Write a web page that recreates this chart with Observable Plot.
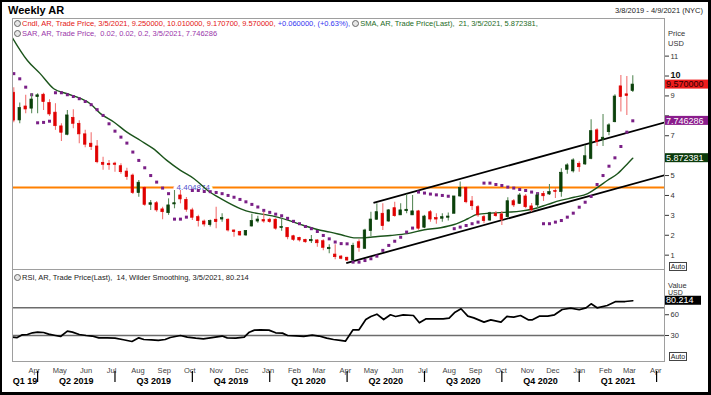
<!DOCTYPE html>
<html>
<head>
<meta charset="utf-8">
<script src="https://cdn.jsdelivr.net/npm/d3@7"></script>
<script src="https://cdn.jsdelivr.net/npm/@observablehq/plot@0.6"></script>
<style>
  body { margin: 0; background: #fff; font-family: "Liberation Sans", Arial, sans-serif; }
  #wrap { position: relative; width: 711px; height: 395px; overflow: hidden; background: #fff; }
  .abs { position: absolute; white-space: nowrap; }
  .leg { font-size: 7.5px; line-height: 9px; }
  .ico { display: inline-block; width: 5px; height: 5px; border-radius: 50%; border: 1px solid #666; background: #e6e6e6; vertical-align: -1px; margin-right: 1px; }
  .auto { position: absolute; border: 1px solid #444; font-size: 7px; line-height: 7px; text-align: center; color: #222; background: #fff; }
  #border { position: absolute; left: 0; top: 0; width: 711px; height: 395px; box-sizing: border-box; border: 2px solid #000; border-right-width: 3px; border-bottom-width: 3px; pointer-events: none; }
</style>
</head>
<body>
<div id="wrap"></div>
<script>
// ---------- DATA ----------
const firstWeek = "2019-03-08";
const opens  = [9.16,7.77,8.47,8.36,8.94,9.06,8.64,8.16,7.47,7.05,7.9,7.6,7.07,6.6,6.46,5.64,5.59,5.6,5.47,5.2,
                5.0,4.12,4.37,3.53,3.61,3.3,3.11,3.55,4.0,3.78,3.25,2.91,2.69,2.51,2.78,2.79,2.78,2.24,2.16,1.99,
                2.44,2.69,2.76,2.78,2.78,2.36,2.36,1.95,1.87,1.77,1.7,1.74,1.7,1.3,1.03,0.93,0.87,0.73,1.65,1.32,
                2.21,2.78,3.08,2.69,3.36,3.0,3.21,3.0,3.2,2.38,3.16,2.86,2.83,2.88,3.08,3.95,4.37,3.7,3.41,2.91,
                2.74,3.08,3.05,2.91,3.71,3.58,3.95,3.45,3.5,4.08,4.05,4.22,4.17,5.29,5.21,5.59,5.56,5.84,7.27,6.8,
                7.18,7.68,9.48,9.08,9.25];
const highs  = [9.41,8.64,9.03,9.11,9.11,9.14,8.81,8.61,7.6,8.27,8.31,7.75,7.27,7.15,6.76,5.92,5.76,5.67,5.59,5.37,
                5.08,4.75,4.43,3.75,3.7,3.41,3.83,4.25,4.25,3.9,3.36,3.0,2.77,2.77,3.41,3.08,2.83,2.27,2.2,2.24,
                3.05,2.96,3.15,2.85,2.83,2.83,2.38,2.0,1.9,1.8,1.99,1.77,1.77,1.52,1.52,0.98,0.9,1.6,1.77,2.3,
                3.16,3.58,3.58,3.3,3.66,3.58,4.05,4.0,3.25,3.0,3.25,3.08,3.08,3.12,3.95,4.67,4.43,3.95,3.5,3.0,
                3.15,3.2,3.2,3.88,3.8,4.1,4.05,3.6,4.1,4.2,4.55,4.35,5.34,5.59,5.84,5.69,6.51,7.8,7.35,8.07,
                7.6,9.06,10.03,9.98,10.01];
const lows   = [7.65,7.6,8.1,8.1,8.1,8.27,7.97,7.27,6.71,7.0,7.35,6.6,6.4,6.26,5.59,5.26,5.26,5.17,5.07,4.76,
                4.05,3.91,3.46,3.25,3.15,2.78,3.0,3.33,3.58,3.15,2.74,2.41,2.41,2.41,2.33,2.66,2.16,1.9,1.95,1.95,
                2.41,2.6,2.6,2.6,2.25,2.2,1.77,1.69,1.66,1.6,1.59,1.4,1.22,1.07,0.77,0.77,0.7,0.73,1.15,1.32,
                1.94,2.76,2.24,2.66,2.9,3.0,3.08,3.0,2.25,2.33,2.66,2.55,2.66,2.72,3.08,3.9,3.58,3.25,2.91,2.58,
                2.7,2.9,2.49,2.85,3.4,3.55,3.33,3.15,3.35,3.7,4.0,3.85,3.91,5.07,5.13,5.17,5.5,5.8,6.46,6.46,
                7.0,7.65,8.19,8.02,9.17];
const closes = [7.76,8.39,8.32,8.82,9.03,8.69,8.07,7.48,7.15,8.02,7.6,7.07,6.55,6.43,5.67,5.54,5.52,5.54,5.17,4.92,
                4.12,4.64,3.53,3.61,3.25,3.16,3.5,3.61,3.8,3.28,2.88,2.71,2.54,2.71,2.66,2.86,2.24,2.16,1.99,2.21,
                2.71,2.79,2.69,2.66,2.33,2.41,1.9,1.77,1.74,1.65,1.77,1.6,1.37,1.37,0.9,0.82,0.73,1.47,1.37,2.24,
                2.79,3.16,2.46,3.25,2.96,3.25,3.28,3.2,2.33,2.94,2.79,2.79,2.91,2.94,3.95,4.37,3.66,3.46,3.0,2.71,
                3.11,2.96,2.78,3.71,3.5,4.0,3.41,3.25,4.0,3.96,4.17,4.18,5.14,5.51,5.76,5.42,5.97,7.23,6.68,6.9,
                7.52,8.97,8.94,9.0,9.57];
const sarValues = [10.12,9.86,9.44,9.06,7.65,7.67,7.73,9.16,9.16,9.06,8.97,8.86,8.72,8.56,8.31,8.02,7.6,7.23,6.93,6.63,
                   6.18,5.76,5.39,5.0,4.67,4.37,4.09,2.81,2.81,2.91,4.25,4.25,4.2,4.19,4.15,4.09,4.0,3.91,3.8,3.68,
                   3.55,3.42,3.25,3.15,3.06,2.98,2.85,2.7,2.58,2.44,2.33,2.19,1.99,1.82,1.66,1.58,1.57,0.65,0.65,0.73,
                   0.82,0.95,1.24,1.49,1.7,1.9,2.16,2.36,4.17,4.12,4.07,4.03,4.0,3.96,2.33,2.41,2.49,2.58,2.66,4.62,
                   4.62,4.55,4.5,4.42,4.37,4.3,4.25,4.17,4.09,2.58,2.58,2.66,2.74,2.91,3.11,3.41,3.66,3.95,4.55,5.0,
                   5.47,5.89,6.46,7.18,7.75];
const smaDates = ["2019-03-06","2019-03-24","2019-04-08","2019-04-24","2019-05-10","2019-05-26","2019-06-06","2019-06-18",
                  "2019-07-04","2019-07-19","2019-08-04","2019-08-19","2019-09-04","2019-09-20","2019-10-06","2019-10-22",
                  "2019-11-07","2019-11-30","2019-12-12","2019-12-27","2020-01-12","2020-01-28","2020-02-12","2020-02-28",
                  "2020-03-14","2020-03-30","2020-04-11","2020-04-23","2020-05-09","2020-05-24","2020-06-13","2020-07-03",
                  "2020-07-22","2020-08-07","2020-08-23","2020-09-03","2020-09-19","2020-10-09","2020-10-24","2020-11-09",
                  "2020-11-25","2020-12-10","2020-12-26","2021-01-11","2021-01-23","2021-02-03","2021-02-15","2021-02-26",
                  "2021-03-05"];
const smaValues = [11.95,10.78,10.12,9.36,9.11,8.86,8.61,8.11,7.68,7.18,6.76,6.35,5.76,5.26,4.84,4.25,
                   3.83,3.33,3.16,3.05,2.91,2.71,2.49,2.29,2.16,1.99,1.87,1.87,1.94,1.99,2.08,2.28,
                   2.38,2.54,2.83,3.05,3.11,3.16,3.21,3.33,3.55,3.75,3.91,4.09,4.42,4.75,5.09,5.56,5.872381];
const rsiDates = ["2019-03-06","2019-03-12","2019-03-18","2019-03-24","2019-03-30","2019-04-05","2019-04-12","2019-04-18",
                  "2019-04-26","2019-05-02","2019-05-10","2019-05-16","2019-05-24","2019-06-01","2019-06-08","2019-06-16",
                  "2019-06-26","2019-07-05","2019-07-15","2019-07-25","2019-08-02","2019-08-08","2019-08-17","2019-08-25",
                  "2019-09-02","2019-09-08","2019-09-20","2019-09-28","2019-10-08","2019-10-17","2019-10-25","2019-11-08",
                  "2019-11-14","2019-11-24","2019-12-04","2019-12-10","2019-12-16","2019-12-23","2020-01-02","2020-01-10",
                  "2020-01-18","2020-01-24","2020-02-03","2020-02-12","2020-02-22","2020-03-01","2020-03-10","2020-03-18",
                  "2020-03-26","2020-04-01","2020-04-10","2020-04-17","2020-04-25","2020-05-01","2020-05-08","2020-05-16",
                  "2020-05-24","2020-05-30","2020-06-08","2020-06-20","2020-06-27","2020-07-05","2020-07-15","2020-07-25",
                  "2020-08-01","2020-08-08","2020-08-15","2020-08-23","2020-08-30","2020-09-11","2020-09-19","2020-10-01",
                  "2020-10-08","2020-10-16","2020-10-24","2020-11-02","2020-11-07","2020-11-15","2020-11-25","2020-12-03",
                  "2020-12-12","2020-12-22","2021-01-01","2021-01-09","2021-01-15","2021-01-22","2021-02-03","2021-02-13",
                  "2021-02-24","2021-03-05"];
const rsiValues = [27.6,27,31,31.4,33.9,34.8,34.3,32,30,28.6,36.2,34.8,31.4,30,29.2,26.6,
                   26.6,26.2,23.8,21.3,26.6,24.2,23.8,22.9,24.2,27.1,30,27.6,26.2,25.2,26.6,29.2,
                   26.6,26.2,27.6,34.8,37.7,38.2,37.7,33.9,33.4,30,29.5,28.6,30.5,29.2,26.2,24.2,
                   22.9,21.8,38.2,38.2,53.1,57.5,60.8,53.1,59.9,57.5,59.9,58.9,48.3,54.1,54.1,54.1,
                   55,63.7,68.6,57.9,55.5,49.3,52.6,49.3,57.5,56.5,58.9,52.6,52.6,57.9,57.9,59.9,
                   67.6,69.5,67.2,70,75.8,70,73.4,79.1,79.1,80.214];
const rsiLevels = [30, 70];
const supportLevel = 4.404874;
const supportLabelDate = "2019-10-05";
const channelStartDates = ["2020-05-04", "2020-04-02"];
const channelStartValues = [3.63, 0.6];
const channelEndDates = ["2021-04-11", "2021-04-11"];
const channelEndValues = [7.66, 5.01];
const lastClose = 9.57, lastSar = 7.746286, lastSma = 5.872381, lastRsi = 80.214;
const priceTicks = [1,2,3,4,5,6,7,8,9,10,11];
const priceTickLabels = ["1","2","3","4","5","","7","","9","","11"];   // 6 and 8 sit under the value tags, 10 is drawn bold
const rsiTicks = [30, 60];
const monthLabels = ["Apr","May","Jun","Jul","Aug","Sep","Oct","Nov","Dec","Jan","Feb","Mar",
                     "Apr","May","Jun","Jul","Aug","Sep","Oct","Nov","Dec","Jan","Feb","Mar","Apr"];
const monthDates = ["2019-04-01","2019-05-01","2019-06-01","2019-07-01","2019-08-01","2019-09-01","2019-10-01",
                    "2019-11-01","2019-12-01","2020-01-01","2020-02-01","2020-03-01","2020-04-01","2020-05-01",
                    "2020-06-01","2020-07-01","2020-08-01","2020-09-01","2020-10-01","2020-11-01","2020-12-01",
                    "2021-01-01","2021-02-01","2021-03-01","2021-04-01"];
const quarterLabels = ["Q1 19","Q2 2019","Q3 2019","Q4 2019","Q1 2020","Q2 2020","Q3 2020","Q4 2020","Q1 2021"];
const quarterStarts = ["2019-04-05","2019-07-05","2019-10-04","2020-01-03","2020-04-03","2020-07-03","2020-10-02","2021-01-01","2021-04-02"];

// ---------- BUILD ----------
const parse = d3.utcParse("%Y-%m-%d");
const t0 = parse(firstWeek);
const candles = opens.map((o, i) => ({date: d3.utcDay.offset(t0, 7 * i), open: o, high: highs[i], low: lows[i], close: closes[i]}));
const upC = candles.filter(d => d.close >= d.open);
const dnC = candles.filter(d => d.close < d.open);
const sar = sarValues.map((v, i) => ({date: candles[i].date, value: v}));
const sma = smaDates.map((d, i) => ({date: parse(d), value: smaValues[i]}));
const rsi = rsiDates.map((d, i) => ({date: parse(d), value: rsiValues[i]}));
const channels = channelStartDates.map((d, i) => ({x1: parse(d), y1: channelStartValues[i], x2: parse(channelEndDates[i]), y2: channelEndValues[i]}));
const xDomain = [new Date("2019-03-06T11:17:00Z"), new Date("2021-04-11T07:12:00Z")];
const months = monthDates.map((d, i) => ({date: parse(d), label: monthLabels[i]}));
const qs = quarterStarts.map(parse);
const quarters = quarterLabels.map((l, i) => {
  const a = i === 0 ? xDomain[0] : qs[i - 1];
  return {label: l, mid: new Date((+a + +qs[i]) / 2)};
});
const bx1 = d => d3.utcHour.offset(d.date, -35);
const bx2 = d => d3.utcHour.offset(d.date, 35);

function tag(value, fill, textFill, text, w) {
  return (index, scales, values, dims) => {
    const y = scales.y(value);
    const x0 = dims.width - dims.marginRight + 1;
    const g = d3.create("svg:g");
    g.append("rect").attr("x", x0).attr("y", y - 4.5).attr("width", w).attr("height", 9).attr("fill", fill);
    g.append("text").attr("x", x0 + 1).attr("y", y).attr("dy", "0.36em").attr("fill", textFill)
      .attr("font-size", 9).attr("text-anchor", "start").text(text);
    return g.node();
  };
}

const common = {
  width: 711, marginLeft: 12, marginRight: 47, marginTop: 0, marginBottom: 0,
  style: {background: "transparent", fontFamily: "'Liberation Sans', Arial, sans-serif", fontSize: "7.5px", color: "#333", overflow: "visible"}
};

const price = Plot.plot({
  ...common, height: 251,
  x: {type: "utc", domain: xDomain, axis: null},
  y: {domain: [0.28, 12.89], axis: "right", ticks: priceTicks, tickSize: 4, tickPadding: 2,
      tickFormat: d => priceTickLabels[priceTicks.indexOf(d)] ?? "", label: null},
  marks: [
    Plot.ruleY([supportLevel], {stroke: "#ff8000", strokeWidth: 2}),
    Plot.text([{date: parse(supportLabelDate), value: supportLevel}], {x: "date", y: "value", text: d => d.value.toFixed(6), fill: "#5252cc", stroke: "white", strokeWidth: 6, fontSize: 8}),
    Plot.line(sma, {x: "date", y: "value", stroke: "#1b541b", strokeWidth: 1.4, curve: "monotone-x", clip: true}),
    Plot.link(channels, {x1: "x1", y1: "y1", x2: "x2", y2: "y2", stroke: "#000", strokeWidth: 1.8, clip: true}),
    Plot.dot(sar, {x: "date", y: "value", symbol: "square", r: 1.7, fill: "#7a1f86", stroke: null, clip: true}),
    Plot.ruleX(dnC, {x: "date", y1: "low", y2: "high", stroke: "#f27474", strokeWidth: 1.1, clip: true}),
    Plot.ruleX(upC, {x: "date", y1: "low", y2: "high", stroke: "#5c8c5c", strokeWidth: 1.1, clip: true}),
    Plot.rect(dnC, {x1: bx1, x2: bx2, y1: "open", y2: "close", fill: "#e00000", stroke: "#e00000", strokeWidth: 0.7, clip: true}),
    Plot.rect(upC, {x1: bx1, x2: bx2, y1: "open", y2: "close", fill: "#0a400a", stroke: "#0a400a", strokeWidth: 0.7, clip: true}),
    Plot.frame({stroke: "#9e9e9e"}),
    Plot.text([10], {y: d => d, text: d => String(d), frameAnchor: "right", textAnchor: "start", dx: 6, dy: -1, fontWeight: "bold", fontSize: 9, fill: "#111"}),
    tag(lastClose, "#ee1c1c", "#2a0000", lastClose.toFixed(6), 43),
    tag(lastSar, "#8a1c8c", "#fff", lastSar.toFixed(6), 43),
    tag(lastSma, "#0b3b0b", "#fff", lastSma.toFixed(6), 43)
  ]
});

const rsiPlot = Plot.plot({
  ...common, height: 92,
  x: {type: "utc", domain: xDomain, axis: null},
  y: {domain: [-7.6, 125.4], axis: "right", ticks: rsiTicks, tickSize: 4, tickPadding: 2, label: null},
  marks: [
    Plot.ruleY(rsiLevels, {stroke: "#6c6c6c", strokeWidth: 1.4}),
    Plot.line(rsi, {x: "date", y: "value", stroke: "#000", strokeWidth: 1.7, clip: true}),
    Plot.frame({stroke: "#9e9e9e"}),
    tag(lastRsi, "#000", "#fff", lastRsi.toFixed(3), 36)
  ]
});

const axisPlot = Plot.plot({
  ...common, height: 30,
  x: {type: "utc", domain: xDomain, axis: null},
  marks: [
    Plot.text(months, {x: "date", text: "label", frameAnchor: "top", dy: 6, fill: "#444", fontSize: 7.5}),
    Plot.ruleX(qs, {x: d => d, insetTop: 10, insetBottom: 9, stroke: "#000", strokeWidth: 1.2}),
    Plot.text(quarters, {x: "mid", text: "label", frameAnchor: "top", dy: 16, fontWeight: "bold", fontSize: 9, fill: "#000"})
  ]
});

const wrap = document.getElementById("wrap");
function place(el, top) { el.style.position = "absolute"; el.style.left = "0px"; el.style.top = top + "px"; wrap.appendChild(el); }

// text partly hidden behind the RSI value tag goes first
wrap.insertAdjacentHTML("beforeend", `<div class="abs" style="left:668px;top:289px;font-size:7px;line-height:8px;color:#333">USD</div>`);
place(price, 18);
place(rsiPlot, 269);
place(axisPlot, 361);

wrap.insertAdjacentHTML("beforeend", `
  <div class="abs" style="left:8px;top:4.5px;font-weight:bold;font-size:11px;line-height:11px;color:#000">Weekly AR</div>
  <div class="abs leg" style="right:8px;top:6px;color:#222">3/8/2019 - 4/9/2021 (NYC)</div>
  <div class="abs leg" style="left:14px;top:19px;">
    <span class="ico"></span><span style="color:#e41414">Cndl, AR, Trade Price, 3/5/2021, 9.250000, 10.010000, 9.170700, 9.570000, </span><span style="color:#3434f0">+0.060000, (+0.63%), </span><span class="ico"></span><span style="color:#1e6b1e">SMA, AR, Trade Price(Last),&nbsp; 21, 3/5/2021, 5.872381,</span>
  </div>
  <div class="abs leg" style="left:14px;top:29px;">
    <span class="ico"></span><span style="color:#9a35aa">SAR, AR, Trade Price,&nbsp; 0.02, 0.02, 0.2, 3/5/2021, 7.746286</span>
  </div>
  <div class="abs leg" style="left:668px;top:28.5px;color:#333">Price</div>
  <div class="abs leg" style="left:668px;top:38.5px;color:#333">USD</div>
  <div class="auto" style="left:669px;top:262px;width:16px;height:7px">Auto</div>
  <div class="abs leg" style="left:14px;top:273px;color:#222"><span class="ico"></span>RSI, AR, Trade Price(Last),&nbsp; 14, Wilder Smoothing, 3/5/2021, 80.214</div>
  <div class="abs leg" style="left:668px;top:281px;color:#333">Value</div>
  <div class="auto" style="left:669px;top:352px;width:16px;height:7px">Auto</div>
  <div id="border"></div>
`);
</script>
</body>
</html>
